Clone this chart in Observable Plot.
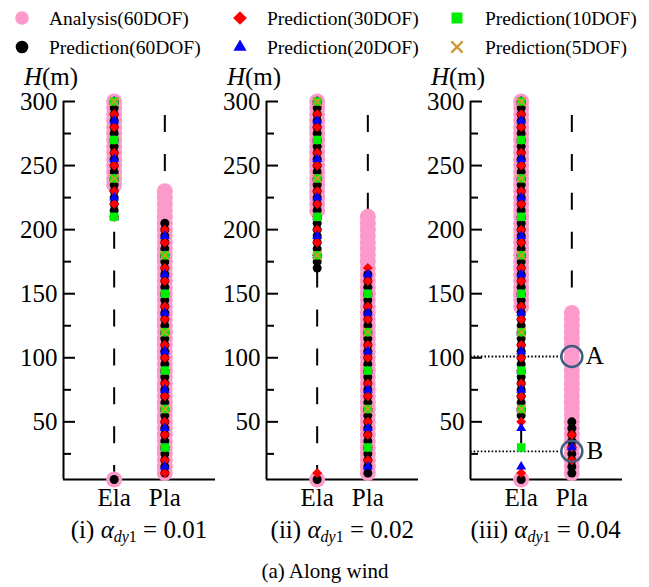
<!DOCTYPE html>
<html>
<head>
<meta charset="utf-8">
<script src="https://cdn.jsdelivr.net/npm/d3@7"></script>
<script src="https://cdn.jsdelivr.net/npm/@observablehq/plot@0.6"></script>
<style>
  html, body { margin: 0; padding: 0; background: #fff; }
  #root { position: relative; width: 649px; height: 587px; overflow: hidden; font-family: "Liberation Serif", "Times New Roman", serif; }
  #root svg { position: absolute; overflow: visible; }
  #root svg text { font-family: "Liberation Serif", "Times New Roman", serif; }
</style>
</head>
<body>
<div id="root"></div>
<script>
// ---------------- data ----------------
const columns = ["Ela", "Pla"];
const seriesNames = ["Analysis(60DOF)", "Prediction(60DOF)", "Prediction(30DOF)", "Prediction(20DOF)", "Prediction(10DOF)", "Prediction(5DOF)"];
const panelLabels = ["(i)", "(ii)", "(iii)"];
const alphaValues = ["0.01", "0.02", "0.04"];
const captionText = "(a) Along wind";
const yTickValues = [50, 100, 150, 200, 250, 300];
const yMinorTickValues = [25, 75, 125, 175, 225, 275];

// floor heights H (m) of each model
const floors60 = [5, 10, 15, 20, 25, 30, 35, 40, 45, 50, 55, 60, 65, 70, 75, 80, 85, 90, 95, 100,
  105, 110, 115, 120, 125, 130, 135, 140, 145, 150, 155, 160, 165, 170, 175, 180, 185, 190, 195, 200,
  205, 210, 215, 220, 225, 230, 235, 240, 245, 250, 255, 260, 265, 270, 275, 280, 285, 290, 295, 300];
const floors30 = [10, 20, 30, 40, 50, 60, 70, 80, 90, 100, 110, 120, 130, 140, 150,
  160, 170, 180, 190, 200, 210, 220, 230, 240, 250, 260, 270, 280, 290, 300];
const floors20 = [15, 30, 45, 60, 75, 90, 105, 120, 135, 150, 165, 180, 195, 210, 225, 240, 255, 270, 285, 300];
const floors10 = [30, 60, 90, 120, 150, 180, 210, 240, 270, 300];
const floors5 = [60, 120, 180, 240, 300];

// heights [from, to] judged plastic ("Pla") in panels (i), (ii), (iii); all other floors are "Ela"
const plaAnalysis = [[10, 230], [10, 210], [10, 135]];
const plaPred60 = [[10, 205], [10, 165], [10, 50]];
const plaPred30 = [[10, 200], [20, 170], [20, 40]];
const plaPred20 = [[15, 195], [15, 165], [30, 30]];
const plaPred10 = [[30, 180], [30, 150], null];
const plaPred5 = [[60, 180], [60, 120], null];

// annotations in panel (iii)
const annotationLabels = ["A", "B"];
const annotationHeights = [101, 27];
const annotationColumn = "Pla";
const annotationPanel = 2;

// ---------------- styles ----------------
const floorsBySeries = [floors60, floors60, floors30, floors20, floors10, floors5];
const plaBySeries = [plaAnalysis, plaPred60, plaPred30, plaPred20, plaPred10, plaPred5];
const seriesStyle = [
  {symbol: "circle", fill: "#fc9bcb", r: 8},
  {symbol: "circle", fill: "#000000", r: 4.5},
  {symbol: "diamond2", fill: "#ff0000", r: 4.5},
  {symbol: "triangle", fill: "#0000ff", r: 3.7},
  {symbol: "square", fill: "#00ee00", r: 4.8},
  {symbol: "times", stroke: "#cc9933", r: 3.8, strokeWidth: 1.7}
];
const legendStyle = [
  {type: d3.symbolCircle, size: Math.PI * 6.8 * 6.8, fill: "#fc9bcb"},
  {type: d3.symbolCircle, size: Math.PI * 6.3 * 6.3, fill: "#000000"},
  {type: d3.symbolDiamond2, size: 120, fill: "#ff0000"},
  {type: d3.symbolTriangle, size: 75, fill: "#0000ff"},
  {type: d3.symbolSquare, size: 121, fill: "#00ee00"},
  {type: d3.symbolTimes, size: 85, stroke: "#cc9933", strokeWidth: 2.2}
];
const FONT = '"Liberation Serif", "Times New Roman", serif';
const PANEL_LEFT = [0, 203.3, 406.7];
const MARGIN_LEFT = 63, FRAME_W = 152, MARGIN_RIGHT = 12;
const PANEL_TOP = 60, PANEL_H = 460, MARGIN_TOP = 41, MARGIN_BOTTOM = 41;
const CHART_FONT_SIZE = 25;

const root = document.getElementById("root");
const colX = (c) => columns.indexOf(c) + 1;

function rowsFor(p, s) {
  const range = plaBySeries[s][p];
  return floorsBySeries[s].map((h) => ({
    h,
    col: range && h >= range[0] && h <= range[1] ? "Pla" : "Ela"
  }));
}

function makePanel(p) {
  const hMin = d3.min(floors60), hMax = d3.max(floors60);
  const marks = [];
  // dashed guide lines for each column
  marks.push(Plot.ruleX(columns, {x: (c) => colX(c), y1: hMax, y2: hMin, stroke: "#000", strokeWidth: 2,
    strokeDasharray: "17,21.9", strokeDashoffset: 24.9}));
  // axis lines and ticks
  marks.push(Plot.ruleX([0], {stroke: "#000", strokeWidth: 2}));
  marks.push(Plot.ruleY([hMin], {stroke: "#000", strokeWidth: 2}));
  marks.push(Plot.tickY(yTickValues, {y: (d) => d, insetRight: FRAME_W - 12, stroke: "#000", strokeWidth: 2}));
  marks.push(Plot.tickY(yMinorTickValues, {y: (d) => d, insetRight: FRAME_W - 8, stroke: "#000", strokeWidth: 2}));
  marks.push(Plot.axisY(yTickValues, {tickSize: 0, tickPadding: 6, label: null, fontSize: CHART_FONT_SIZE, fontFamily: FONT}));
  marks.push(Plot.axisX([1, 2], {tickSize: 0, tickPadding: 9, label: null, tickFormat: (i) => columns[i - 1], fontSize: CHART_FONT_SIZE, fontFamily: FONT}));

  const annots = p === annotationPanel
    ? annotationLabels.map((label, i) => ({label, h: annotationHeights[i], col: annotationColumn}))
    : [];
  if (annots.length) {
    marks.push(Plot.ruleY(annots, {y: "h", x1: 0, x2: (d) => colX(d.col), insetRight: 10,
      stroke: "#000", strokeWidth: 1.8, strokeDasharray: "1.6,2"}));
  }
  seriesNames.forEach((name, s) => {
    const st = seriesStyle[s];
    const opts = {x: (d) => colX(d.col), y: "h", symbol: st.symbol, r: st.r};
    if (st.fill) { opts.fill = st.fill; opts.stroke = "none"; }
    else { opts.fill = "none"; opts.stroke = st.stroke; opts.strokeWidth = st.strokeWidth; }
    marks.push(Plot.dot(rowsFor(p, s), opts));
  });
  if (annots.length) {
    marks.push(Plot.dot(annots, {x: (d) => colX(d.col), y: "h", r: 10.5, fill: "none", stroke: "#3f5f82", strokeWidth: 2.5}));
    marks.push(Plot.text(annots, {x: (d) => colX(d.col), y: "h", text: "label", dx: 23, fontSize: CHART_FONT_SIZE, fontFamily: FONT, fill: "#000"}));
  }

  const svg = Plot.plot({
    width: MARGIN_LEFT + FRAME_W + MARGIN_RIGHT,
    height: PANEL_H,
    marginLeft: MARGIN_LEFT, marginRight: MARGIN_RIGHT, marginTop: MARGIN_TOP, marginBottom: MARGIN_BOTTOM,
    x: {domain: [0, 3]},
    y: {domain: [hMin, hMax]},
    style: {fontFamily: FONT, fontSize: CHART_FONT_SIZE + "px", color: "#000", background: "transparent", overflow: "visible"},
    marks
  });
  svg.style.left = PANEL_LEFT[p] + "px";
  svg.style.top = PANEL_TOP + "px";
  // force the serif face and size on every text of the panel
  d3.select(svg).selectAll("g[aria-label$='tick label'], g[aria-label='text']")
    .attr("font-family", FONT).attr("font-size", CHART_FONT_SIZE).attr("font-variant", null)
    .style("font-variant", "normal");
  d3.select(svg).selectAll("text").attr("font-size", CHART_FONT_SIZE).style("font-size", CHART_FONT_SIZE + "px")
    .style("font-family", FONT);
  // axis title H(m)
  const t = d3.select(svg).append("text").attr("x", 51).attr("y", 25)
    .style("font-size", CHART_FONT_SIZE + "px").style("font-family", FONT).attr("fill", "#000");
  t.append("tspan").attr("font-style", "italic").text("H");
  t.append("tspan").text("(m)");
  root.appendChild(svg);
}

[0, 1, 2].forEach(makePanel);

// ---------------- legend ----------------
const leg = d3.select(root).append("svg").attr("width", 649).attr("height", 64)
  .style("left", "0px").style("top", "0px");
const legSymX = [22, 240, 457], legTextX = [49, 267, 485], legRowY = [18, 47];
seriesNames.forEach((name, i) => {
  const c = Math.floor(i / 2), r = i % 2;
  const st = legendStyle[i];
  leg.append("path")
    .attr("transform", `translate(${legSymX[c]},${legRowY[r]})`)
    .attr("d", d3.symbol(st.type, st.size)())
    .attr("fill", st.fill || "none")
    .attr("stroke", st.stroke || "none")
    .attr("stroke-width", st.strokeWidth || 0);
  leg.append("text").attr("x", legTextX[c]).attr("y", legRowY[r]).attr("dy", "0.35em")
    .style("font-size", "19.5px").style("font-family", FONT).attr("fill", "#000").text(name);
});

// ---------------- panel subtitles and caption ----------------
const bot = d3.select(root).append("svg").attr("width", 649).attr("height", 70)
  .style("left", "0px").style("top", "517px");
panelLabels.forEach((lab, p) => {
  const cx = PANEL_LEFT[p] + MARGIN_LEFT + FRAME_W / 2;
  const t = bot.append("text").attr("x", cx).attr("y", 21).attr("text-anchor", "middle")
    .style("font-size", "25px").style("font-family", FONT).attr("fill", "#000");
  t.append("tspan").text(lab + " ");
  t.append("tspan").attr("font-style", "italic").text("α");
  t.append("tspan").attr("font-style", "italic").style("font-size", "16px").attr("dy", 4).text("dy");
  t.append("tspan").style("font-size", "16px").text("1");
  t.append("tspan").attr("dy", -4).text(" = " + alphaValues[p]);
});
bot.append("text").attr("x", 325).attr("y", 61).attr("text-anchor", "middle")
  .style("font-size", "21px").style("font-family", FONT).attr("fill", "#000").text(captionText);
</script>
</body>
</html>
